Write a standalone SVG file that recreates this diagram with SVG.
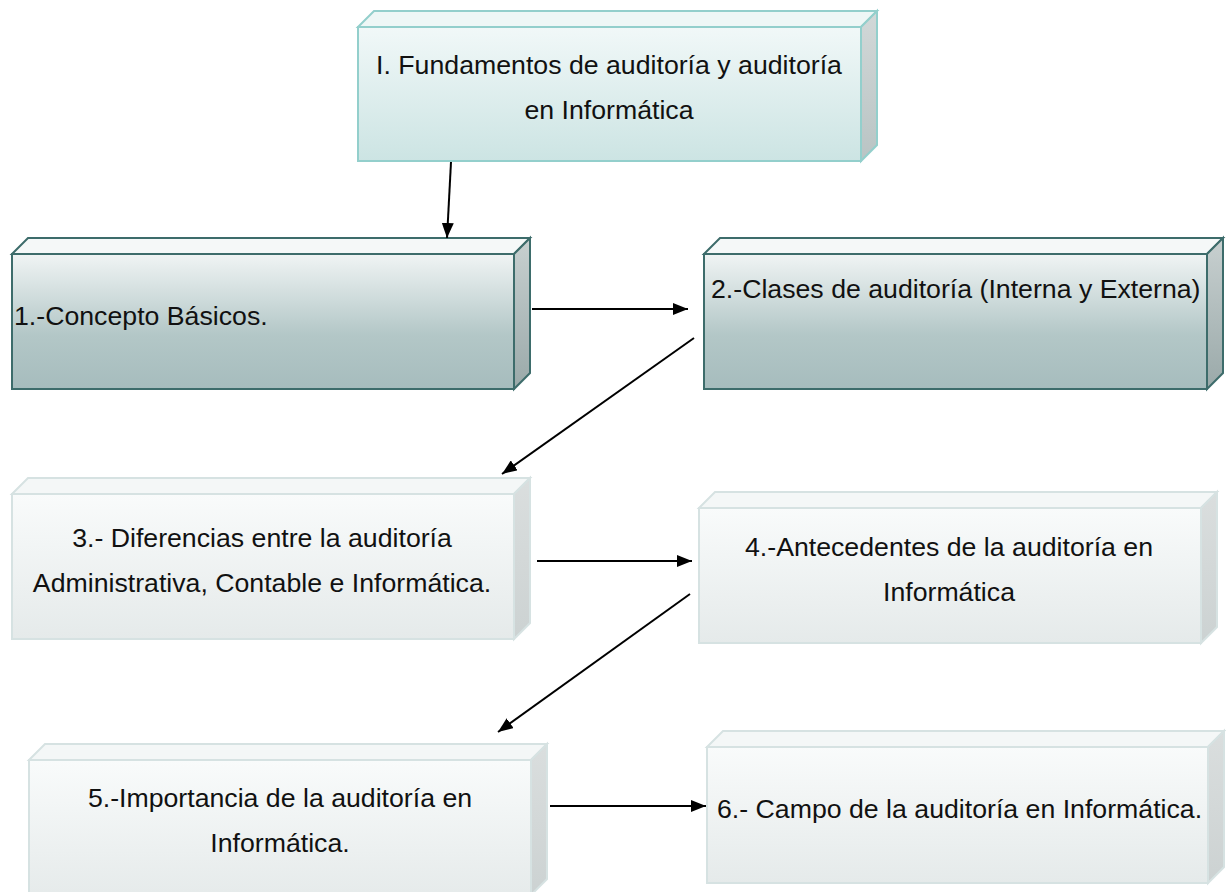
<svg xmlns="http://www.w3.org/2000/svg" width="1226" height="892" viewBox="0 0 1226 892">
<defs>
<linearGradient id="gTop" x1="0" y1="0" x2="0" y2="1"><stop offset="0" stop-color="#f1f8f8"/><stop offset="1" stop-color="#cce4e3"/></linearGradient>
<linearGradient id="gDark" x1="0" y1="0" x2="0" y2="1"><stop offset="0" stop-color="#f0f4f4"/><stop offset="0.6" stop-color="#b3c7c7"/><stop offset="1" stop-color="#a6bcbd"/></linearGradient>
<linearGradient id="gLight" x1="0" y1="0" x2="0" y2="1"><stop offset="0" stop-color="#f9fbfb"/><stop offset="1" stop-color="#e5eaea"/></linearGradient>
<linearGradient id="sTop" x1="0" y1="0" x2="0" y2="1"><stop offset="0" stop-color="#d2d8d8"/><stop offset="1" stop-color="#b9c4c4"/></linearGradient>
<linearGradient id="sDark" x1="0" y1="0" x2="0" y2="1"><stop offset="0" stop-color="#c8d0d0"/><stop offset="1" stop-color="#9aa9a9"/></linearGradient>
<linearGradient id="sLight" x1="0" y1="0" x2="0" y2="1"><stop offset="0" stop-color="#dadede"/><stop offset="1" stop-color="#ccd2d2"/></linearGradient>
<marker id="ah" markerWidth="16" markerHeight="12" refX="15" refY="6" orient="auto" markerUnits="userSpaceOnUse"><path d="M0,0 L15,6 L0,12 Z" fill="#000"/></marker>
</defs>
<style>
.t{font-family:"Liberation Sans",Arial,sans-serif;font-size:26.7px;fill:#111}
.c{text-anchor:middle}
.top .f{fill:url(#gTop);stroke:#93cfcc;stroke-width:2}
.top .u{fill:#eef7f6;stroke:#93cfcc;stroke-width:2}
.top .s{fill:url(#sTop);stroke:#93cfcc;stroke-width:2}
.dk .f{fill:url(#gDark);stroke:#3d6c6b;stroke-width:2}
.dk .u{fill:#f5f8f8;stroke:#3d6c6b;stroke-width:2}
.dk .s{fill:url(#sDark);stroke:#3d6c6b;stroke-width:2}
.lt .f{fill:url(#gLight);stroke:#d6e2e2;stroke-width:2}
.lt .u{fill:#f4f7f7;stroke:#d6e2e2;stroke-width:2}
.lt .s{fill:url(#sLight);stroke:#d6e2e2;stroke-width:2}
.cn line{stroke:#000;stroke-width:2;marker-end:url(#ah)}
</style>
<rect width="1226" height="892" fill="#fff"/>

<g id="n0" class="top">
<polygon class="u" points="358,27 374,11 877,11 861,27"/>
<polygon class="s" points="861,27 877,11 877,145 861,161"/>
<rect class="f" x="358" y="27" width="503" height="134"/>
<text class="t c" x="609" y="74">I. Fundamentos de auditoría y auditoría</text>
<text class="t c" x="609" y="119">en Informática</text>
</g>

<g id="n1" class="dk">
<polygon class="u" points="12,254 28,238 530,238 514,254"/>
<polygon class="s" points="514,254 530,238 530,373 514,389"/>
<rect class="f" x="12" y="254" width="502" height="135"/>
<text class="t" x="14" y="325">1.-Concepto Básicos.</text>
</g>

<g id="n2" class="dk">
<polygon class="u" points="704,254 720,238 1223,238 1207,254"/>
<polygon class="s" points="1207,254 1223,238 1223,373 1207,389"/>
<rect class="f" x="704" y="254" width="503" height="135"/>
<text class="t" x="711" y="298">2.-Clases de auditoría (Interna y Externa)</text>
</g>

<g id="n3" class="lt">
<polygon class="u" points="12,494 28,478 530,478 514,494"/>
<polygon class="s" points="514,494 530,478 530,623 514,639"/>
<rect class="f" x="12" y="494" width="502" height="145"/>
<text class="t c" x="262" y="547">3.- Diferencias entre la auditoría</text>
<text class="t c" x="262" y="592">Administrativa, Contable e Informática.</text>
</g>

<g id="n4" class="lt">
<polygon class="u" points="699,508 715,492 1217,492 1201,508"/>
<polygon class="s" points="1201,508 1217,492 1217,627 1201,643"/>
<rect class="f" x="699" y="508" width="502" height="135"/>
<text class="t c" x="949" y="556">4.-Antecedentes de la auditoría en</text>
<text class="t c" x="949" y="601">Informática</text>
</g>

<g id="n5" class="lt">
<polygon class="u" points="29,760 45,744 547,744 531,760"/>
<polygon class="s" points="531,760 547,744 547,879 531,895"/>
<rect class="f" x="29" y="760" width="502" height="140"/>
<text class="t c" x="280" y="807">5.-Importancia de la auditoría en</text>
<text class="t c" x="280" y="852">Informática.</text>
</g>

<g id="n6" class="lt">
<polygon class="u" points="707,747 723,731 1224,731 1208,747"/>
<polygon class="s" points="1208,747 1224,731 1224,867 1208,883"/>
<rect class="f" x="707" y="747" width="501" height="136"/>
<text class="t" x="717" y="818">6.- Campo de la auditoría en Informática.</text>
</g>

<g id="connectors" class="cn">
<line x1="451" y1="162" x2="447" y2="238"/>
<line x1="532" y1="309" x2="688" y2="309"/>
<line x1="694" y1="338" x2="502" y2="474"/>
<line x1="537" y1="561" x2="692" y2="561"/>
<line x1="690" y1="594" x2="498" y2="732"/>
<line x1="550" y1="806" x2="706" y2="806"/>
</g>
</svg>
